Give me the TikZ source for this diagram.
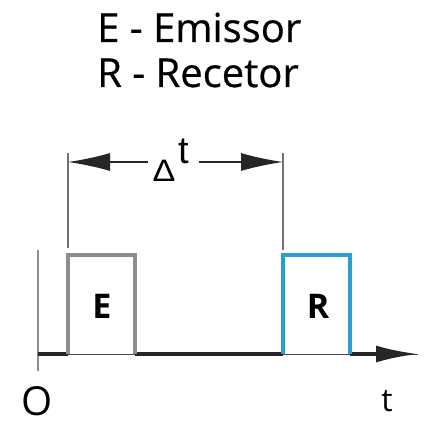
\documentclass[tikz,border=0pt]{standalone}
\usepackage{fontspec}
\setmainfont{Open Sans}
\newfontfamily\arialfont{Liberation Sans}
\newfontfamily\titlefont{Open Sans}[FakeBold=0.6]
\usetikzlibrary{arrows.meta}
\definecolor{pgray}{HTML}{8E8E8E}
\definecolor{pblue}{HTML}{2A9FD4}
\tikzset{
  x=1pt, y=-1pt,
  dimline/.style={draw=pgray!80!black, line width=1.3pt},
  dimarrow/.style={draw=black!85, line width=1.3pt, -{Latex[length=42pt,width=18pt]}},
  pulseE/.style={draw=pgray, line width=3.5pt},
  pulseR/.style={draw=pblue, line width=3.5pt},
  axisthick/.style={draw=black!85, line width=3.5pt},
  title/.style={font=\titlefont\fontsize{40}{44}\selectfont, anchor=base west, inner sep=0pt},
  plabel/.style={font=\fontsize{34}{34}\selectfont\bfseries, inner sep=0pt, anchor=base},
  axlabel/.style={font=\fontsize{40}{40}\selectfont, inner sep=0pt, anchor=base}
}
\begin{document}
\begin{tikzpicture}
\useasboundingbox (0,0) rectangle (424,425);
% titles
\node[title] (t1) at (97,42) {E - Emissor};
\node[title] (t2) at (97,87) {R - Recetor};
% reference points
\coordinate (o) at (38,354);
\coordinate (e1) at (68,354);
\coordinate (e2) at (135,354);
\coordinate (r1) at (283,354);
\coordinate (r2) at (350,354);
\coordinate (tip) at (418,354);
\coordinate (ytop) at (38,250);
\coordinate (ybot) at (38,371);
% vertical axis
\draw[draw=pgray, line width=2pt] (ytop) -- (ybot);
% baseline thin
\draw[draw=black!70, line width=1pt] (o) -- (tip);
% thick segments
\draw[axisthick] (o) -- (e1);
\draw[axisthick] (e2) -- (r1);
\draw[axisthick, -{Latex[length=42pt,width=17pt]}] (r2) -- (tip);
% pulses
\draw[pulseE, line join=miter] (e1) -- (68,255) -- (135,255) -- (e2);
\draw[pulseR, line join=miter] (r1) -- (283,255) -- (350,255) -- (r2);
\node[plabel] (le) at (102,318) {E};
\node[plabel] (lr) at (318,318) {R};
% dimension
\coordinate (d1b) at (68,248);
\coordinate (d1t) at (68,153);
\coordinate (d2b) at (283,250);
\coordinate (d2t) at (283,153);
\draw[dimline] (d1b) -- (d1t);
\draw[dimline] (d2b) -- (d2t);
\node[inner sep=0pt, anchor=base, font=\arialfont\fontsize{31}{31}\selectfont] (delta) at (164,181) {\scalebox{1.1}[1]{Δ}};
\node[inner sep=0pt, anchor=base, font=\arialfont\fontsize{38}{38}\selectfont] (tt) at (184,163) {t};
\coordinate (a1) at (68,162);
\coordinate (a2) at (283,162);
\draw[dimarrow] (148,162) -- (a1);
\draw[dimarrow] (199,162) -- (a2);
% axis labels
\node[axlabel] (zero) at (37,415) {O};
\node[axlabel, font=\fontsize{32}{32}\selectfont] (tl) at (387,411) {t};
\end{tikzpicture}
\end{document}
